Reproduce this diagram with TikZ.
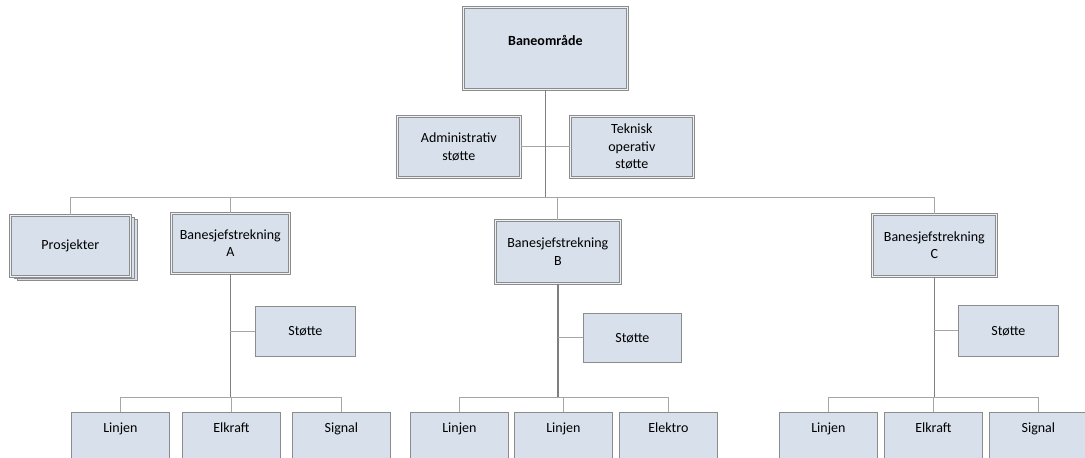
\documentclass[tikz,border=0pt]{standalone}
\usepackage{fontspec}
\setmainfont{Carlito}
\definecolor{boxfill}{HTML}{D7E0EB}
\definecolor{boxline}{HTML}{8C8C8C}
\definecolor{boxgap}{HTML}{EEF1F5}
\definecolor{trunkgray}{HTML}{7F7F7F}
\definecolor{linkgray}{HTML}{A6A6A6}
\begin{document}
\begin{tikzpicture}[x=1pt,y=-1pt,
  box/.style={draw=boxline, fill=boxfill, line width=0.8pt, rectangle,
    anchor=north west, align=center, inner sep=2pt,
    font=\fontsize{14}{17.5}\selectfont},
  dbox/.style={box, double=boxgap, double distance=1.4pt, line width=0.7pt},
  leafbox/.style={box, minimum width=98pt, text height=12pt, text depth=40pt,
    inner ysep=8pt},
  trunk/.style={draw=trunkgray, line width=1.3pt},
  link/.style={draw=linkgray, line width=1pt}]
\useasboundingbox (0,0) rectangle (1085,458);
\clip (0,0) rectangle (1085,458);

% top level
\node[dbox, minimum width=164pt, text height=36pt, text depth=42pt, inner ysep=2pt]
  (top) at (463,7) {\textbf{Baneområde}};
\node[dbox, minimum width=123pt, minimum height=61pt] (adm) at (397,116) {Administrativ\\støtte};
\node[dbox, minimum width=123pt, minimum height=61pt] (tek) at (570,116) {Teknisk\\operativ\\støtte};

% project stack
\node[box, minimum width=120pt, minimum height=61pt] (pro3) at (17,218.5) {};
\node[box, minimum width=120pt, minimum height=61pt] (pro2) at (13.5,216.8) {};
\node[dbox, minimum width=120pt, minimum height=61pt] (pro) at (10,215) {Prosjekter};

% line sections
\node[dbox, minimum width=118pt, minimum height=60pt] (A) at (171,213) {Banesjefstrekning\\A};
\node[dbox, minimum width=125pt, minimum height=63pt] (B) at (495,220) {Banesjefstrekning\\B};
\node[dbox, minimum width=124pt, minimum height=62pt] (C) at (872,214) {Banesjefstrekning\\C};

% support units
\node[box, minimum width=100pt, minimum height=50pt] (sA) at (255,306) {Støtte};
\node[box, minimum width=98pt, minimum height=49pt] (sB) at (583,313) {Støtte};
\node[box, minimum width=100pt, minimum height=51pt] (sC) at (958,305) {Støtte};

% disciplines
\node[leafbox] (a1) at (71,412) {Linjen};
\node[leafbox] (a2) at (182,412) {Elkraft};
\node[leafbox] (a3) at (292,412) {Signal};
\node[leafbox] (b1) at (410,412) {Linjen};
\node[leafbox] (b2) at (514,412) {Linjen};
\node[leafbox] (b3) at (619,412) {Elektro};
\node[leafbox] (c1) at (779,412) {Linjen};
\node[leafbox] (c2) at (884,412) {Elkraft};
\node[leafbox] (c3) at (989,412) {Signal};

\coordinate (bus) at (0,197);
\coordinate (brk) at (0,397);

% connectors from the top
\draw[link] (adm.east) -- (tek.west);
\draw[link] (pro.north |- bus) -- (C.north |- bus);
\draw[trunk] (top.south) -- (top.south |- bus);
\foreach \n in {pro,A,B,C}
  \draw[link] (\n.north |- bus) -- (\n.north);

% section branches
\foreach \s/\t/\x/\y/\z in {A/sA/a1/a2/a3, B/sB/b1/b2/b3, C/sC/c1/c2/c3}{
  \draw[trunk] (\s.south) -- (\s.south |- brk);
  \draw[link] (\s.south |- \t.west) -- (\t.west);
  \draw[link] (\x.north |- brk) -- (\z.north |- brk);
  \foreach \m in {\x,\y,\z}
    \draw[link] (\m.north |- brk) -- (\m.north);
}
\end{tikzpicture}
\end{document}
